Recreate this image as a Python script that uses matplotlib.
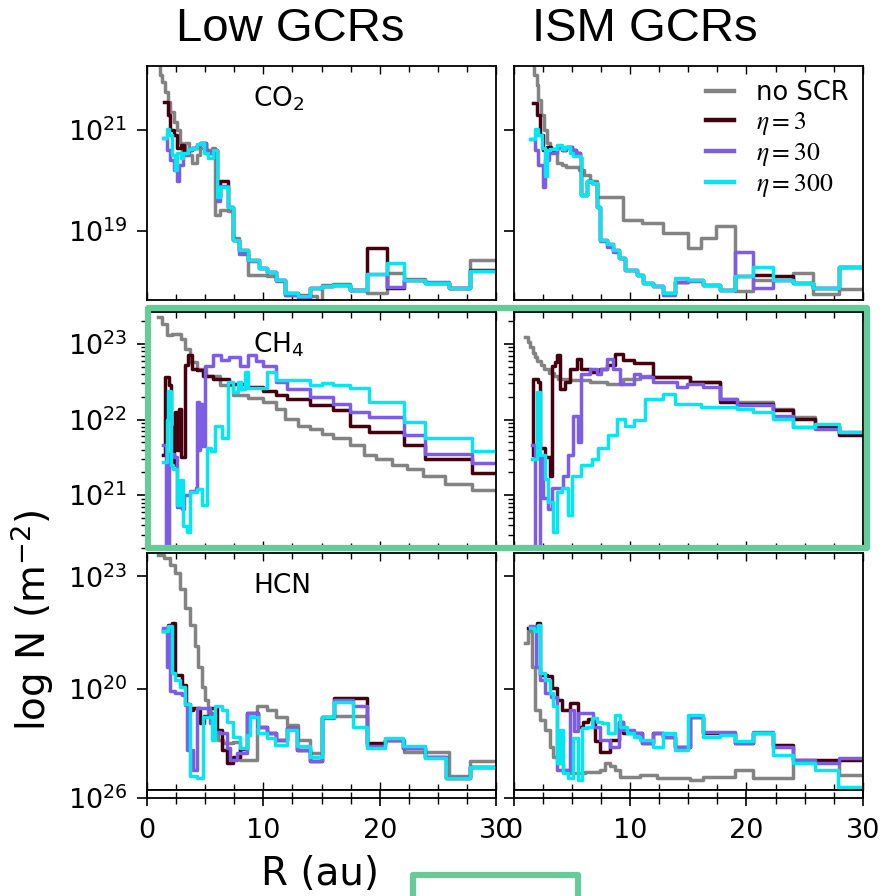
import numpy as np
import matplotlib
matplotlib.use("Agg")
import matplotlib.pyplot as plt
from matplotlib import ticker
from matplotlib.patches import Rectangle
from matplotlib.lines import Line2D
from matplotlib.font_manager import FontProperties

# Column density profiles, (R [au], log10 N [m^-2]) at each step start
co2_low_noscr = [(0.9, 22.6), (1.1, 22.1), (1.35, 21.95), (1.6, 21.75), (1.8, 21.55), (2.0, 21.35),
                 (2.3, 21.15), (2.6, 21.0), (2.85, 20.75), (3.0, 20.55), (3.3, 20.75), (3.6, 20.5),
                 (3.9, 20.35), (4.3, 20.5), (4.6, 20.65), (5.1, 20.6), (5.6, 20.65), (5.9, 19.32),
                 (6.3, 19.42), (7.0, 19.4), (7.4, 18.85), (7.9, 18.6), (8.7, 18.13), (10.3, 18.1),
                 (11.1, 18.0), (11.9, 17.72), (14.0, 17.7), (14.6, 17.55), (15.0, 17.92), (16.0, 17.95),
                 (17.4, 17.83), (18.9, 17.77), (20.6, 18.16), (22.1, 18.05), (23.9, 17.96), (25.9, 17.86),
                 (27.7, 18.42), (30.0, 18.42)]
co2_low_eta3 = [(1.5, 21.55), (1.8, 21.3), (2.0, 21.0), (2.3, 20.9), (2.6, 20.65), (2.9, 20.7),
                (3.2, 20.55), (3.5, 20.6), (3.9, 20.65), (4.3, 20.7), (4.6, 20.75), (5.1, 20.55),
                (5.7, 20.6), (6.0, 19.68), (6.3, 19.98), (7.0, 19.48), (7.4, 18.82), (7.9, 18.62),
                (8.7, 18.43), (9.6, 18.26), (10.3, 18.19), (11.1, 18.03), (11.9, 17.77), (13.0, 17.7),
                (14.0, 17.86), (15.0, 17.9), (16.0, 17.93), (17.4, 17.83), (18.9, 18.66), (20.6, 17.86),
                (22.1, 18.03), (23.9, 17.96), (25.9, 17.86), (27.7, 18.23), (30.0, 18.23)]
co2_low_eta30 = [(1.5, 20.85), (1.7, 20.6), (2.0, 20.4), (2.3, 20.2), (2.6, 19.98), (2.8, 20.3),
                 (3.1, 20.5), (3.5, 20.6), (3.9, 20.65), (4.3, 20.7), (4.6, 20.75), (5.1, 20.55),
                 (5.7, 20.6), (6.0, 19.6), (6.3, 19.9), (7.0, 19.48), (7.4, 18.82), (7.9, 18.55),
                 (8.7, 18.4), (9.6, 18.26), (10.3, 18.19), (11.1, 18.03), (11.9, 17.72), (13.0, 17.65),
                 (14.0, 17.86), (15.0, 17.9), (16.0, 17.93), (17.4, 17.83), (18.9, 18.15), (20.6, 17.88),
                 (22.1, 18.03), (23.9, 17.98), (25.9, 17.86), (27.7, 18.21), (30.0, 18.21)]
co2_low_eta300 = [(1.4, 20.85), (1.7, 21.03), (1.9, 20.9), (2.15, 20.5), (2.4, 20.2), (2.6, 20.55),
                  (2.9, 20.45), (3.1, 20.55), (3.5, 20.62), (3.9, 20.65), (4.3, 20.72), (4.6, 20.74),
                  (4.9, 20.55), (5.3, 20.45), (5.7, 20.6), (6.0, 19.68), (6.3, 19.88), (7.0, 19.48),
                  (7.4, 18.82), (7.9, 18.62), (8.7, 18.43), (9.6, 18.26), (10.3, 18.19), (11.1, 18.03),
                  (11.9, 17.77), (13.0, 17.7), (14.0, 17.86), (15.0, 17.9), (16.0, 17.93), (17.4, 17.83),
                  (18.9, 18.15), (20.6, 18.36), (22.1, 18.03), (23.9, 17.96), (25.9, 17.86), (27.7, 18.21),
                  (30.0, 18.21)]

co2_ism_noscr = [(1.5, 22.6), (1.75, 22.1), (1.95, 21.9), (2.1, 21.6), (2.3, 21.3), (2.55, 21.0),
                 (2.8, 20.75), (3.1, 20.62), (3.4, 20.6), (3.7, 20.35), (4.1, 20.3), (4.5, 20.27),
                 (5.0, 20.27), (5.6, 20.2), (6.0, 20.1), (6.55, 19.98), (7.1, 19.68), (9.4, 19.22),
                 (11.0, 19.16), (12.85, 18.95), (15.0, 18.66), (16.1, 18.85), (17.4, 19.09), (19.0, 17.8),
                 (20.6, 18.03), (24.0, 18.16), (25.75, 17.75), (28.0, 17.84), (30.0, 17.84)]
co2_ism_eta3 = [(1.6, 21.53), (1.95, 21.3), (2.2, 20.9), (2.5, 20.6), (2.8, 20.67), (3.2, 20.6),
                (3.67, 20.67), (4.1, 20.6), (4.5, 20.67), (5.0, 20.6), (5.3, 20.55), (5.68, 20.47),
                (5.8, 19.71), (6.25, 19.98), (6.7, 19.95), (7.1, 19.48), (7.4, 18.82), (8.0, 18.75),
                (8.55, 18.62), (9.0, 18.46), (9.55, 18.23), (10.55, 18.13), (11.1, 17.96), (12.0, 17.9),
                (12.85, 17.77), (13.85, 17.98), (15.0, 18.03), (16.3, 17.93), (17.7, 17.83), (19.0, 18.1),
                (20.6, 18.12), (22.3, 18.1), (24.0, 17.96), (25.75, 17.86), (28.0, 18.29), (30.0, 18.29)]
co2_ism_eta30 = [(1.5, 20.83), (1.8, 20.6), (2.1, 20.3), (2.52, 19.88), (2.7, 20.4), (3.0, 20.55),
                 (3.67, 20.67), (4.1, 20.6), (4.5, 20.67), (5.0, 20.6), (5.3, 20.55), (5.68, 20.47),
                 (5.8, 19.71), (6.25, 19.98), (6.7, 19.95), (7.1, 19.48), (7.4, 18.8), (8.0, 18.68),
                 (8.55, 18.58), (9.0, 18.46), (9.55, 18.23), (10.55, 18.13), (11.1, 17.96), (12.0, 17.9),
                 (12.85, 17.73), (13.85, 17.98), (15.0, 18.0), (16.3, 17.93), (17.7, 17.83), (19.0, 18.59),
                 (20.6, 17.86), (22.3, 18.03), (24.0, 17.96), (25.75, 17.86), (28.0, 18.29), (30.0, 18.29)]
co2_ism_eta300 = [(1.38, 20.83), (1.8, 21.03), (2.1, 20.9), (2.4, 20.65), (2.67, 20.08), (2.8, 20.6),
                  (3.1, 20.62), (3.67, 20.7), (4.1, 20.62), (4.4, 20.67), (4.8, 20.55), (5.1, 20.48),
                  (5.68, 20.47), (5.8, 19.71), (6.25, 19.98), (6.7, 19.95), (7.1, 19.48), (7.4, 18.82),
                  (8.0, 18.75), (8.55, 18.62), (9.0, 18.46), (9.55, 18.23), (10.55, 18.13), (11.1, 17.96),
                  (12.0, 17.9), (12.85, 17.77), (13.85, 18.06), (15.0, 18.03), (16.3, 17.93), (17.7, 17.83),
                  (19.0, 18.1), (20.6, 18.29), (22.3, 18.03), (24.0, 17.96), (25.75, 17.86), (28.0, 18.29),
                  (30.0, 18.29)]

ch4_low_noscr = [(0.95, 23.35), (1.3, 23.26), (1.7, 23.11), (2.2, 23.13), (2.9, 23.07), (3.3, 22.93),
                 (3.7, 22.76), (4.3, 22.67), (5.1, 22.58), (6.3, 22.45), (7.4, 22.32), (8.7, 22.29),
                 (10.0, 22.23), (11.1, 22.14), (11.9, 22.01), (13.0, 21.92), (14.0, 21.88), (15.0, 21.81),
                 (16.0, 21.76), (17.4, 21.66), (18.6, 21.53), (19.7, 21.48), (21.0, 21.4), (22.3, 21.35),
                 (23.7, 21.26), (25.6, 21.15), (27.9, 21.07), (30.0, 21.07)]
ch4_low_eta3 = [(1.43, 21.53), (1.6, 22.56), (1.9, 22.45), (2.1, 21.4), (2.3, 21.9), (2.45, 22.1),
                (2.6, 21.6), (2.75, 22.14), (2.95, 21.5), (3.25, 22.72), (3.57, 22.85), (3.86, 22.67),
                (4.3, 22.65), (4.86, 22.58), (5.7, 22.54), (7.1, 22.47), (8.57, 22.43), (10.0, 22.38),
                (11.1, 22.32), (12.0, 22.27), (14.0, 22.19), (16.0, 22.12), (17.4, 21.92), (19.1, 21.84),
                (22.1, 21.66), (23.9, 21.48), (27.9, 21.29), (30.0, 21.29)]
ch4_low_eta30 = [(1.43, 21.66), (1.65, 20.1), (1.95, 21.55), (2.3, 21.5), (2.6, 20.85), (3.0, 20.82),
                 (3.2, 21.0), (3.7, 21.05), (4.2, 21.1), (4.3, 22.23), (4.45, 21.6), (4.6, 22.2),
                 (4.75, 21.65), (5.0, 22.71), (5.7, 22.85), (6.4, 22.78), (7.1, 22.83), (8.0, 22.71),
                 (8.7, 22.85), (9.4, 22.77), (10.0, 22.71), (11.1, 22.5), (12.0, 22.4), (14.0, 22.3),
                 (16.0, 22.2), (17.4, 22.1), (19.1, 22.03), (22.1, 21.79), (23.9, 21.55), (27.9, 21.42),
                 (30.0, 21.42)]
ch4_low_eta300 = [(1.43, 21.44), (1.7, 22.0), (1.86, 22.38), (2.05, 21.4), (2.29, 21.35), (2.6, 20.87),
                  (2.86, 21.2), (3.15, 20.6), (3.43, 20.52), (3.7, 21.04), (4.3, 21.08), (4.71, 20.87),
                  (5.14, 21.62), (5.5, 21.58), (5.86, 21.92), (6.43, 21.75), (7.0, 22.49), (7.43, 22.36),
                  (7.8, 22.5), (8.1, 22.4), (8.43, 22.63), (8.7, 22.41), (9.5, 22.42), (10.3, 22.63),
                  (11.1, 22.52), (14.0, 22.45), (15.0, 22.48), (16.0, 22.45), (17.4, 22.41), (19.1, 22.23),
                  (22.1, 21.97), (23.9, 21.75), (27.9, 21.59), (30.0, 21.59)]

ch4_ism_noscr = [(0.95, 23.09), (1.2, 23.03), (1.4, 22.96), (1.6, 22.88), (1.8, 22.82), (2.0, 22.77),
                 (2.3, 22.72), (2.6, 22.67), (3.0, 22.62), (3.4, 22.57), (3.8, 22.54), (4.8, 22.52),
                 (6.5, 22.49), (8.0, 22.47), (9.4, 22.54), (10.8, 22.58), (12.0, 22.56), (15.1, 22.49),
                 (17.7, 22.27), (19.2, 22.23), (22.3, 22.14), (24.0, 22.03), (25.9, 21.92), (28.0, 21.81),
                 (30.0, 21.81)]
ch4_ism_eta3 = [(1.6, 21.53), (1.66, 22.54), (2.1, 22.49), (2.2, 21.62), (2.7, 21.5), (3.1, 21.26),
                (3.24, 22.71), (3.5, 22.76), (3.67, 22.85), (3.96, 22.4), (4.4, 22.49), (4.8, 22.67),
                (5.4, 22.8), (5.8, 22.67), (6.5, 22.63), (7.4, 22.67), (8.0, 22.72), (8.7, 22.87),
                (9.4, 22.78), (10.3, 22.74), (12.0, 22.56), (15.1, 22.49), (17.7, 22.23), (19.2, 22.21),
                (22.3, 22.12), (24.0, 22.01), (25.9, 21.92), (28.0, 21.79), (30.0, 21.79)]
ch4_ism_eta30 = [(1.52, 21.66), (1.8, 20.1), (2.2, 21.5), (2.52, 20.96), (2.95, 20.82), (3.3, 21.1),
                 (3.67, 21.09), (4.24, 21.26), (4.67, 21.53), (5.1, 22.05), (5.5, 21.7), (5.8, 22.6),
                 (6.5, 22.67), (7.1, 22.6), (7.5, 22.67), (8.0, 22.8), (8.55, 22.67), (9.1, 22.47),
                 (10.3, 22.6), (10.8, 22.56), (12.0, 22.49), (14.0, 22.43), (14.9, 22.47), (16.3, 22.43),
                 (17.7, 22.27), (19.2, 22.19), (22.3, 22.05), (24.0, 21.9), (25.9, 21.88), (28.0, 21.83),
                 (30.0, 21.83)]
ch4_ism_eta300 = [(1.52, 21.48), (1.95, 22.36), (2.24, 21.53), (2.67, 21.22), (2.95, 20.91), (3.38, 20.52),
                  (3.67, 21.04), (4.1, 21.09), (4.67, 20.74), (4.96, 21.26), (5.8, 21.4), (6.7, 21.48),
                  (7.25, 21.62), (8.1, 21.79), (8.83, 22.01), (9.55, 21.92), (10.3, 21.99), (11.3, 22.27),
                  (12.85, 22.34), (13.85, 22.21), (16.1, 22.16), (19.2, 22.14), (20.6, 22.1), (22.3, 22.01),
                  (24.0, 21.9), (25.9, 21.94), (28.0, 21.83), (30.0, 21.83)]

hcn_low_noscr = [(1.0, 23.58), (1.5, 23.5), (2.0, 23.31), (2.43, 23.09), (2.86, 22.65), (3.29, 22.16),
                 (3.71, 21.71), (4.14, 21.14), (4.43, 20.6), (4.71, 20.07), (5.0, 19.72), (5.29, 19.36),
                 (5.71, 18.83), (6.14, 18.65), (6.57, 18.56), (7.43, 18.6), (8.0, 18.12), (9.43, 19.54),
                 (10.3, 19.45), (11.1, 19.27), (12.0, 19.05), (13.0, 18.65), (14.0, 18.3), (15.0, 19.23),
                 (16.1, 19.3), (18.9, 18.53), (20.4, 18.65), (22.1, 18.34), (25.9, 17.68), (27.7, 18.08),
                 (30.0, 18.08)]
hcn_low_eta3 = [(1.43, 21.54), (1.86, 21.7), (2.14, 21.76), (2.43, 20.38), (3.0, 20.11), (3.4, 19.6),
                (3.71, 19.45), (4.0, 19.5), (4.57, 19.1), (4.9, 19.3), (5.43, 19.5), (6.0, 18.92),
                (6.43, 18.39), (6.86, 18.03), (7.4, 18.2), (8.0, 18.4), (8.57, 19.36), (9.57, 19.0),
                (10.3, 18.83), (11.1, 18.65), (12.0, 18.96), (12.86, 18.39), (14.0, 18.08), (15.0, 19.27),
                (16.1, 19.76), (17.7, 19.76), (18.9, 18.56), (20.4, 18.65), (22.0, 18.43), (23.9, 18.2),
                (25.7, 17.63), (27.7, 17.94), (30.0, 17.94)]
hcn_low_eta30 = [(1.43, 21.62), (1.71, 20.6), (1.86, 21.65), (2.0, 19.94), (2.43, 19.9), (3.0, 19.85),
                 (3.29, 19.58), (3.43, 18.39), (4.0, 17.85), (4.29, 19.5), (5.43, 19.1), (5.8, 18.85),
                 (6.29, 18.83), (6.86, 18.43), (7.14, 18.12), (7.71, 18.3), (8.57, 19.36), (9.57, 19.0),
                 (10.3, 18.83), (11.1, 18.65), (12.0, 18.96), (12.86, 18.39), (14.0, 18.08), (15.0, 19.27),
                 (16.1, 19.72), (17.7, 19.54), (18.9, 18.48), (20.4, 18.65), (22.0, 18.43), (23.9, 18.2),
                 (25.7, 17.63), (27.7, 17.94), (30.0, 17.94)]
hcn_low_eta300 = [(1.43, 21.54), (1.86, 21.67), (2.14, 20.43), (2.43, 20.25), (2.86, 20.07), (3.29, 19.6),
                  (3.71, 17.68), (4.3, 17.63), (4.86, 19.27), (5.57, 18.65), (5.86, 19.54), (6.43, 19.45),
                  (6.86, 19.14), (7.43, 18.74), (8.0, 18.43), (8.57, 18.78), (8.86, 19.27), (9.57, 18.83),
                  (10.3, 18.7), (11.0, 18.52), (12.0, 18.92), (12.86, 18.48), (14.0, 18.21), (15.0, 19.27),
                  (16.1, 19.67), (17.7, 19.0), (18.9, 18.43), (20.4, 18.7), (22.0, 18.48), (23.9, 18.16),
                  (25.7, 17.63), (27.7, 17.94), (30.0, 17.94)]

hcn_ism_noscr = [(0.95, 21.23), (1.23, 21.54), (1.52, 20.6), (1.8, 19.45), (2.24, 19.18), (2.67, 18.92),
                 (3.1, 18.47), (3.38, 18.2), (3.81, 18.03), (4.24, 17.85), (4.82, 17.76), (6.1, 17.8),
                 (7.4, 17.85), (7.83, 18.03), (8.3, 17.95), (8.7, 17.85), (9.1, 17.67), (10.8, 17.72),
                 (12.3, 17.63), (15.1, 17.58), (16.3, 17.67), (19.0, 17.85), (20.6, 17.63), (24.0, 18.1),
                 (28.0, 17.72), (30.0, 17.72)]
hcn_ism_eta3 = [(1.23, 21.62), (1.95, 21.76), (2.24, 20.38), (2.8, 20.34), (3.24, 20.03), (3.67, 19.72),
                (4.1, 19.45), (4.82, 19.63), (5.5, 19.0), (5.97, 19.14), (6.4, 19.2), (7.0, 18.61),
                (7.4, 18.34), (8.26, 18.65), (9.0, 19.14), (9.4, 18.83), (10.3, 18.83), (11.0, 18.56),
                (12.0, 18.83), (12.85, 18.74), (13.85, 18.47), (15.1, 19.27), (16.3, 18.83), (19.0, 18.56),
                (20.6, 18.83), (22.3, 18.52), (24.0, 18.12), (28.0, 18.12), (30.0, 18.12)]
hcn_ism_eta30 = [(1.38, 21.67), (1.9, 20.6), (2.24, 20.25), (2.67, 19.9), (3.2, 19.8), (3.67, 17.85),
                 (4.82, 19.45), (5.2, 18.9), (5.5, 19.36), (6.83, 19.0), (7.4, 18.65), (8.26, 18.47),
                 (9.0, 19.14), (9.4, 18.92), (10.3, 18.83), (11.0, 18.56), (12.0, 18.83), (12.85, 18.74),
                 (13.85, 18.47), (15.1, 19.27), (16.3, 18.87), (19.0, 18.56), (20.6, 18.87), (22.3, 18.47),
                 (24.0, 18.12), (25.9, 18.03), (28.0, 18.16), (30.0, 18.16)]
hcn_ism_eta300 = [(1.38, 21.62), (1.7, 21.55), (2.1, 21.71), (2.24, 20.43), (2.67, 20.25), (3.1, 19.9),
                  (3.38, 19.54), (3.67, 18.03), (3.96, 18.92), (4.24, 17.76), (4.67, 17.63), (5.1, 18.7),
                  (5.53, 17.59), (5.82, 18.96), (6.25, 19.0), (6.7, 19.23), (7.1, 19.14), (7.6, 19.1),
                  (8.1, 18.83), (8.7, 19.32), (9.1, 19.0), (9.7, 18.83), (10.3, 18.74), (10.8, 18.65),
                  (12.0, 18.47), (12.85, 18.83), (13.85, 18.39), (15.0, 19.32), (16.3, 18.74), (17.7, 18.78),
                  (19.0, 18.61), (20.6, 18.83), (22.3, 18.25), (24.0, 18.03), (25.9, 17.85), (27.9, 17.4),
                  (30.0, 17.4)]

col_titles = ["Low GCRs", "ISM GCRs"]
species = ["CO$_2$", "CH$_4$", "HCN"]
labels = ["no SCR", r"$\eta=3$", r"$\eta=30$", r"$\eta=300$"]
colors = ["#838383", "#44000e", "#7d5ce6", "#05e6f0"]
ylims = [(17.63, 22.27), (20.29, 23.42), (17.32, 23.62)]
yticks = [[19, 21], [21, 22, 23], [20, 23]]

panels = [
    [[co2_low_noscr, co2_low_eta3, co2_low_eta30, co2_low_eta300],
     [co2_ism_noscr, co2_ism_eta3, co2_ism_eta30, co2_ism_eta300]],
    [[ch4_low_noscr, ch4_low_eta3, ch4_low_eta30, ch4_low_eta300],
     [ch4_ism_noscr, ch4_ism_eta3, ch4_ism_eta30, ch4_ism_eta300]],
    [[hcn_low_noscr, hcn_low_eta3, hcn_low_eta30, hcn_low_eta300],
     [hcn_ism_noscr, hcn_ism_eta3, hcn_ism_eta30, hcn_ism_eta300]],
]

W, H = 885, 896
fig = plt.figure(figsize=(W / 100, H / 100), dpi=100)


def add_ax(x0, y0, x1, y1):
    # box given in pixels from the top-left corner
    return fig.add_axes([x0 / W, 1 - y1 / H, (x1 - x0) / W, (y1 - y0) / H])


col_x = [(146.7, 496.5), (514, 862.7)]
row_y = [(66, 300), (312, 549), (553, 790)]
tick_fs = 19.5

for r in range(3):
    for c in range(2):
        x0, x1 = col_x[c]
        y0, y1 = row_y[r]
        ax = add_ax(x0, y0, x1, y1)
        for s, data in enumerate(panels[r][c]):
            arr = np.array(data)
            ax.step(arr[:, 0], 10 ** arr[:, 1], where="post", color=colors[s], lw=2.5)
        ax.set_yscale("log")
        ax.set_ylim(10 ** ylims[r][0], 10 ** ylims[r][1])
        ax.set_xlim(0, 30)
        ax.set_yticks([10.0 ** v for v in yticks[r]])
        if r == 1:
            ax.yaxis.set_minor_locator(ticker.LogLocator(base=10, subs=np.arange(2, 10), numticks=30))
        else:
            ax.yaxis.set_minor_locator(ticker.NullLocator())
        ax.yaxis.set_minor_formatter(ticker.NullFormatter())
        ax.xaxis.set_major_locator(ticker.MultipleLocator(10))
        ax.xaxis.set_minor_locator(ticker.MultipleLocator(2.5))
        ax.tick_params(axis="y", which="major", direction="out", length=7, width=1.2,
                       labelsize=tick_fs, pad=7, labelleft=(c == 0))
        ax.tick_params(axis="y", which="minor", direction="out", length=4, width=1.0)
        ax.tick_params(axis="x", which="both", direction="in", top=True, bottom=True,
                       labelbottom=False, width=1.0)
        ax.tick_params(axis="x", which="major", length=6)
        ax.tick_params(axis="x", which="minor", length=4)
        for sp in ax.spines.values():
            sp.set_linewidth(1.3)
        if c == 0:
            ax.text(0.305, 0.86, species[r], transform=ax.transAxes, fontsize=19,
                    ha="left", va="center")
        if r == 0 and c == 1:
            handles = [Line2D([], [], color=col, lw=3.2) for col in colors]
            ax.legend(handles, labels, loc="upper right", frameon=False,
                      prop=FontProperties(size=18.5, math_fontfamily="stix"),
                      handlelength=1.1, handletextpad=0.85, labelspacing=0.12,
                      borderaxespad=0.25, borderpad=0.3)

# thin strip under the bottom row carrying the shared x axis
for c in range(2):
    x0, x1 = col_x[c]
    ax = add_ax(x0, 790, x1, 798)
    ax.set_yscale("log")
    ax.set_ylim(1e26, 1e27)
    ax.set_yticks([1e26])
    ax.yaxis.set_minor_locator(ticker.NullLocator())
    ax.set_xlim(0, 30)
    ax.set_xticks([0, 10, 20, 30])
    ax.xaxis.set_minor_locator(ticker.MultipleLocator(2.5))
    ax.tick_params(axis="y", which="major", direction="out", length=7, width=1.2,
                   labelsize=tick_fs, pad=7, labelleft=(c == 0))
    ax.tick_params(axis="x", which="major", direction="inout", length=11, width=1.2,
                   labelsize=tick_fs, pad=9)
    ax.tick_params(axis="x", which="minor", direction="inout", length=9, width=1.0)
    for sp in ax.spines.values():
        sp.set_linewidth(1.3)

title_font = ["Liberation Sans", "DejaVu Sans"]
fig.text(290 / W, 1 - 29 / H, col_titles[0], fontsize=34, family=title_font, ha="center", va="center")
fig.text(645 / W, 1 - 29 / H, col_titles[1], fontsize=34, family=title_font, ha="center", va="center")
fig.text(32 / W, 1 - 620 / H, "log N (m$^{-2}$)", fontsize=28, rotation=90, ha="center", va="center")
fig.text(320 / W, 1 - 874 / H, "R (au)", fontsize=28, ha="center", va="center")

# green highlight boxes
green = "#66cb98"
fig.add_artist(Rectangle((148 / W, 1 - 548 / H), (867 - 148) / W, (548 - 308) / H,
                         transform=fig.transFigure, fill=False, ec=green, lw=4.5, joinstyle="round"))
fig.add_artist(Rectangle((413 / W, 1 - 915 / H), (578 - 413) / W, (915 - 875) / H,
                         transform=fig.transFigure, fill=False, ec=green, lw=4.5, joinstyle="round"))

fig.savefig("out.png", dpi=100)
